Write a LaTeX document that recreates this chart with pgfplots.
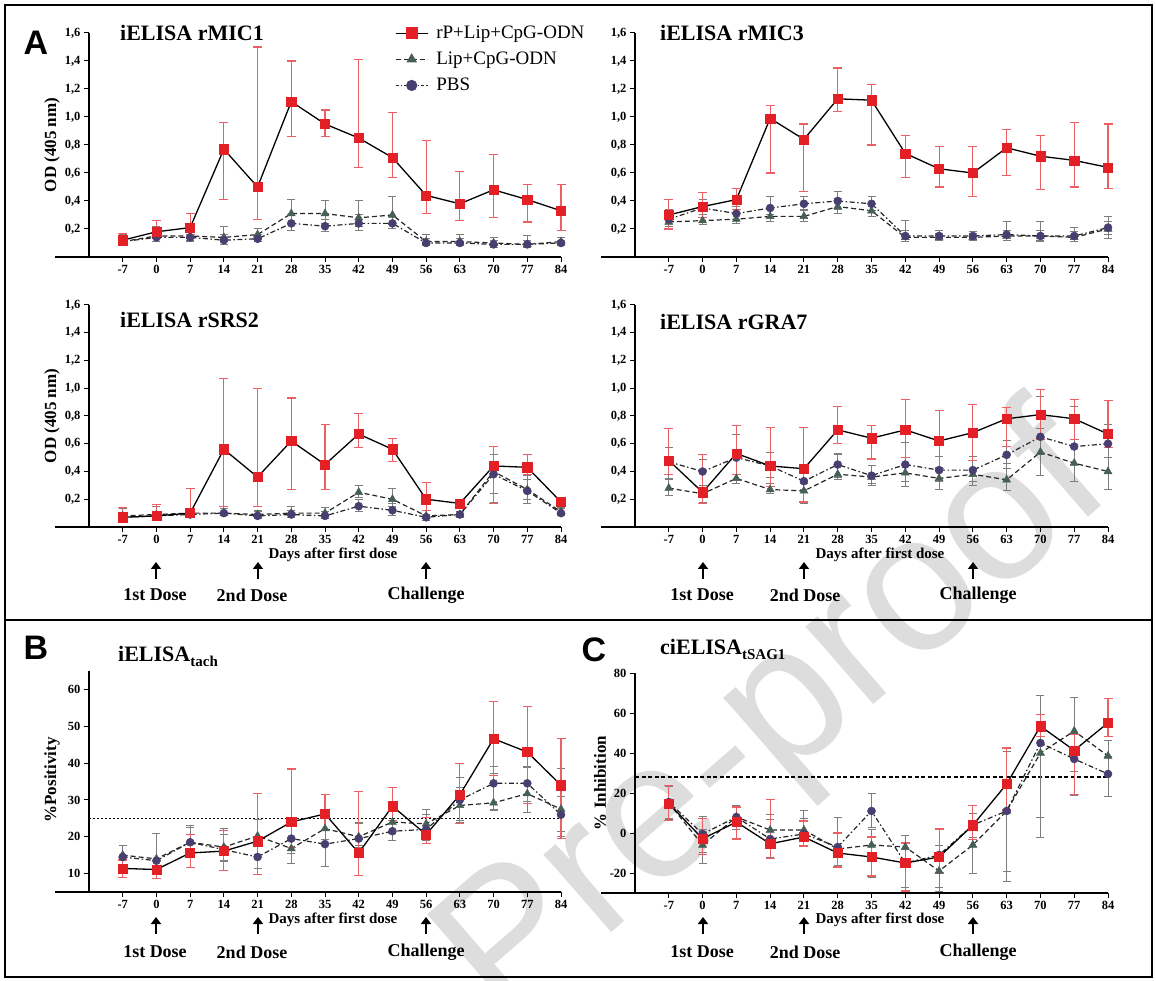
\documentclass[border=0pt]{standalone}
\usepackage{pgfplots}
\pgfplotsset{compat=1.18}
\usepackage{pgfplotstable}
\usepackage{fontspec}
\setmainfont{Liberation Serif}
\newfontfamily\lsans{Liberation Sans}
\usetikzlibrary{arrows.meta}

\definecolor{rmark}{RGB}{226,32,38}
\definecolor{rerr}{RGB}{234,96,100}
\definecolor{tmark}{RGB}{70,96,86}
\definecolor{cmark}{RGB}{72,62,112}
\definecolor{gerr}{RGB}{125,125,125}
\definecolor{wmark}{RGB}{221,221,221}

\newcommand\tickfont{\fontsize{12.5}{12.5}\selectfont\bfseries}
\newcommand\titlefont{\fontsize{22}{22}\selectfont\bfseries}
\newcommand\ylabfont{\fontsize{17}{17}\selectfont\bfseries}
\newcommand\dayfont{\fontsize{15}{15}\selectfont\bfseries}
\newcommand\dosefont{\fontsize{18}{18}\selectfont\bfseries}
\newcommand\letterfont{\lsans\fontsize{34}{34}\selectfont\bfseries}

\pgfplotsset{
 panel/.style={scale only axis, width=472pt, axis x line=bottom, axis y line=left,
   axis line style={-,line width=1.3pt,black}, tick align=outside, major tick length=5pt,
   tick style={line width=1pt,black}, xmin=-14, xmax=84,
   xtick={-7,0,7,14,21,28,35,42,49,56,63,70,77,84},
   xticklabels={-7,0,7,14,21,28,35,42,49,56,63,70,77,84},
   ticklabel style={font=\tickfont}, /pgf/number format/assume math mode=true, clip=false},
 odpanel/.style={panel, ymin=0, ymax=1.6, ytick={0.2,0.4,0.6,0.8,1.0,1.2,1.4,1.6},
   yticklabels={{0,2},{0,4},{0,6},{0,8},{1,0},{1,2},{1,4},{1,6}}},
 sred/.style={black, line width=1.3pt, solid, mark=square*, mark size=4.6pt,
   mark options={solid, fill=rmark, draw=rmark, line width=0.5pt},
   error bars/.cd, y dir=both, y explicit, error bar style={rerr, line width=1.1pt, solid},
   error mark options={rotate=90, rerr, mark size=4.5pt, line width=1.1pt, solid}},
 slip/.style={black!85, line width=1.2pt, dash pattern=on 5pt off 3pt, mark=triangle*, mark size=4.6pt,
   mark options={solid, fill=tmark, draw=tmark, line width=0.5pt},
   error bars/.cd, y dir=both, y explicit, error bar style={gerr, line width=1pt, solid},
   error mark options={rotate=90, gerr, mark size=4pt, line width=1pt, solid}},
 spbs/.style={black!85, line width=1.2pt, dash pattern=on 5pt off 2.5pt on 1.5pt off 2.5pt, mark=*, mark size=4pt,
   mark options={solid, fill=cmark, draw=cmark, line width=0.5pt},
   error bars/.cd, y dir=both, y explicit, error bar style={gerr, line width=1pt, solid},
   error mark options={rotate=90, gerr, mark size=4pt, line width=1pt, solid}},
}

\pgfplotstableread{
d r rp rm l lp lm p pp pm
-7 0.12 0.05 0.04 0.11 0.05 0.03 0.11 0.04 0.03
0 0.18 0.08 0.05 0.15 0.07 0.04 0.14 0.05 0.03
7 0.21 0.10 0.05 0.15 0.06 0.03 0.14 0.04 0.03
14 0.77 0.19 0.36 0.14 0.08 0.03 0.12 0.04 0.03
21 0.50 1.00 0.23 0.16 0.04 0.03 0.13 0.03 0.02
28 1.11 0.29 0.25 0.31 0.10 0.07 0.24 0.06 0.05
35 0.95 0.10 0.09 0.31 0.09 0.07 0.22 0.05 0.04
42 0.85 0.56 0.21 0.28 0.12 0.06 0.24 0.06 0.05
49 0.71 0.32 0.14 0.30 0.13 0.07 0.24 0.05 0.04
56 0.44 0.39 0.13 0.11 0.05 0.02 0.10 0.03 0.02
63 0.38 0.23 0.12 0.11 0.05 0.02 0.10 0.03 0.02
70 0.48 0.25 0.20 0.10 0.04 0.02 0.09 0.03 0.02
77 0.41 0.11 0.16 0.09 0.06 0.02 0.09 0.03 0.02
84 0.33 0.19 0.14 0.11 0.03 0.02 0.10 0.02 0.02
}\tMICa

\pgfplotstableread{
d r rp rm l lp lm p pp pm
-7 0.30 0.11 0.10 0.25 0.06 0.05 0.27 0.07 0.05
0 0.36 0.10 0.08 0.26 0.04 0.03 0.35 0.06 0.05
7 0.41 0.08 0.07 0.27 0.04 0.03 0.31 0.05 0.04
14 0.99 0.09 0.39 0.29 0.05 0.04 0.35 0.08 0.05
21 0.84 0.11 0.37 0.29 0.04 0.04 0.38 0.05 0.04
28 1.13 0.22 0.09 0.36 0.06 0.05 0.40 0.07 0.06
35 1.12 0.11 0.32 0.33 0.05 0.04 0.38 0.05 0.05
42 0.74 0.13 0.17 0.14 0.05 0.03 0.15 0.11 0.04
49 0.63 0.16 0.13 0.14 0.03 0.02 0.15 0.04 0.03
56 0.60 0.19 0.17 0.14 0.03 0.02 0.15 0.03 0.03
63 0.78 0.13 0.20 0.15 0.04 0.03 0.16 0.09 0.04
70 0.72 0.15 0.24 0.15 0.04 0.03 0.15 0.10 0.04
77 0.69 0.27 0.19 0.14 0.04 0.03 0.15 0.06 0.04
84 0.64 0.31 0.15 0.20 0.05 0.04 0.21 0.08 0.08
}\tMICc

\pgfplotstableread{
d r rp rm l lp lm p pp pm
-7 0.07 0.07 0.04 0.08 0.05 0.02 0.07 0.03 0.02
0 0.08 0.08 0.03 0.09 0.06 0.02 0.08 0.03 0.02
7 0.10 0.18 0.02 0.10 0.03 0.02 0.09 0.03 0.02
14 0.56 0.51 0.41 0.10 0.05 0.02 0.10 0.03 0.02
21 0.36 0.64 0.21 0.09 0.03 0.02 0.08 0.03 0.02
28 0.62 0.31 0.35 0.10 0.05 0.02 0.09 0.03 0.02
35 0.45 0.29 0.18 0.10 0.04 0.02 0.08 0.03 0.02
42 0.67 0.15 0.10 0.25 0.05 0.04 0.15 0.05 0.04
49 0.56 0.08 0.09 0.20 0.08 0.05 0.12 0.05 0.04
56 0.20 0.12 0.08 0.08 0.04 0.02 0.07 0.02 0.02
63 0.17 0.03 0.03 0.09 0.02 0.02 0.09 0.02 0.02
70 0.44 0.14 0.27 0.40 0.12 0.16 0.38 0.14 0.20
77 0.43 0.09 0.05 0.27 0.10 0.10 0.26 0.08 0.06
84 0.18 0.02 0.02 0.11 0.03 0.02 0.10 0.03 0.02
}\tSRS

\pgfplotstableread{
d r rp rm l lp lm p pp pm
-7 0.48 0.23 0.10 0.28 0.06 0.05 0.47 0.10 0.12
0 0.25 0.27 0.08 0.24 0.04 0.06 0.40 0.09 0.10
7 0.53 0.20 0.15 0.35 0.15 0.04 0.50 0.17 0.12
14 0.44 0.28 0.15 0.27 0.04 0.03 0.44 0.10 0.08
21 0.42 0.30 0.24 0.26 0.05 0.09 0.33 0.06 0.06
28 0.70 0.17 0.10 0.38 0.15 0.04 0.45 0.07 0.09
35 0.64 0.09 0.15 0.36 0.08 0.06 0.37 0.07 0.06
42 0.70 0.22 0.20 0.39 0.22 0.10 0.45 0.16 0.12
49 0.62 0.22 0.20 0.35 0.08 0.08 0.41 0.10 0.08
56 0.68 0.20 0.20 0.38 0.13 0.08 0.41 0.10 0.08
63 0.78 0.08 0.20 0.34 0.12 0.08 0.52 0.10 0.10
70 0.81 0.18 0.18 0.54 0.17 0.17 0.65 0.29 0.13
77 0.78 0.14 0.15 0.46 0.12 0.13 0.58 0.29 0.13
84 0.67 0.24 0.10 0.40 0.10 0.13 0.60 0.14 0.10
}\tGRA

\pgfplotstableread{
d r rp rm l lp lm p pp pm
-7 11.4 2.3 2.4 15.0 2.5 2.5 14.5 3 2.5
0 11.1 2.5 2.5 14.0 7 3 13.5 7.5 3
7 15.6 5 4 18.5 4.5 4 18.5 4 3
14 16.1 5.5 5.2 17.2 5 4 16.5 4 3
21 18.8 13 9 20.2 4.5 5 14.5 4 3
28 24.0 14.4 7 16.8 3 4 19.5 4 4
35 26.2 5.3 4.5 22.2 3 3 18.0 4 6
42 15.6 16.8 6.1 20.0 4 3 19.5 4 2
49 28.3 5 4 24.0 3 3 21.5 3 2.5
56 20.6 4.7 2.5 23.5 4 3 22.0 4 3
63 31.4 8.6 7.7 28.5 5 4 30.0 6 6
70 46.6 10 10 29.2 8 2 34.5 4.5 7
77 43.0 12.3 14 31.7 7 5 34.5 4.5 5
84 34.0 12.6 14.5 27.5 11 6 26.0 5 6
}\tTach

\pgfplotstableread{
d r rp rm l lp lm p pp pm
-7 14.8 9 8.5 15 9 8 15.5 8 8
0 -2.9 10 8 -6 8 9 -0.5 9 9
7 5.5 7.5 8.5 8 5 6 8 6 6
14 -5.4 22 7.5 1.5 8 7 -3 10 9
21 -2.0 8 4.5 1.5 10 5 -0.5 8 6
28 -10.0 10 7 -8 8 8 -7 15 9
35 -12.0 10 9.5 -6 8 16 11 9 8
42 -15.0 10 14 -7 6 8 -15 7 12
49 -12.0 14 8 -19 8 10 -11 5 16
56 3.9 10 7 -6 12 14 4 6 6
63 24.5 18 13 11 30 35 11 30 30
70 53.4 6 5 40 16 32 45 24 47
77 41.3 8 22 51 17 20 37 13 18
84 55.1 12 7 38.5 8 8 29.5 9 11
}\tSAG

\begin{document}
\begin{tikzpicture}
\path[use as bounding box] (0pt,0pt) rectangle (1156pt,980pt);

% watermark (behind everything)
\begin{scope}[x=1pt,y=-1pt,yshift=980pt]
\node[rotate=41, text=wmark, font=\lsans\fontsize{195}{195}\selectfont, inner sep=0pt] at (777,722) {Pre-proof};
\end{scope}

% ---------- A: rMIC1 ----------
\begin{axis}[odpanel, at={(89pt,723pt)}, anchor=south west, height=224pt,
  legend style={at={(axis description cs:0.648,1.04)}, anchor=north west, draw=none, fill=none,
    font=\fontsize{19}{19}\selectfont, inner sep=0pt, row sep=8pt,
    /tikz/every odd column/.append style={column sep=6pt}},
  legend cell align=left,
  legend image code/.code={\draw[mark repeat=2,mark phase=2,#1] plot coordinates {(0pt,0pt) (16pt,0pt) (32pt,0pt)};}]
\addlegendimage{black, line width=1.3pt, solid, mark=square*, mark size=5.5pt, mark options={solid, fill=rmark, draw=rmark}}
\addlegendentry{rP+Lip+CpG-ODN}
\addlegendimage{black!85, line width=1.2pt, dash pattern=on 5pt off 3pt, mark=triangle*, mark size=5pt, mark options={solid, fill=tmark, draw=tmark}}
\addlegendentry{Lip+CpG-ODN}
\addlegendimage{black!85, line width=1.2pt, dash pattern=on 3pt off 2pt on 1.5pt off 2pt, mark=*, mark size=5pt, mark options={solid, fill=cmark, draw=cmark}}
\addlegendentry{PBS}
\draw[line width=1.3pt] (axis cs:-21,0) -- (axis cs:-14,0);
\addplot[forget plot, slip] table[x=d,y=l,y error plus=lp,y error minus=lm]{\tMICa};
\addplot[forget plot, spbs] table[x=d,y=p,y error plus=pp,y error minus=pm]{\tMICa};
\addplot[forget plot, sred] table[x=d,y=r,y error plus=rp,y error minus=rm]{\tMICa};
\end{axis}

% ---------- A: rMIC3 ----------
\begin{axis}[odpanel, at={(635pt,723pt)}, anchor=south west, height=224pt, width=473pt]
\draw[line width=1.3pt] (axis cs:-21,0) -- (axis cs:-14,0);
\addplot[slip] table[x=d,y=l,y error plus=lp,y error minus=lm]{\tMICc};
\addplot[spbs] table[x=d,y=p,y error plus=pp,y error minus=pm]{\tMICc};
\addplot[sred] table[x=d,y=r,y error plus=rp,y error minus=rm]{\tMICc};
\end{axis}

% ---------- A: rSRS2 ----------
\begin{axis}[odpanel, at={(89pt,453pt)}, anchor=south west, height=222pt]
\draw[line width=1.3pt] (axis cs:-21,0) -- (axis cs:-14,0);
\addplot[slip] table[x=d,y=l,y error plus=lp,y error minus=lm]{\tSRS};
\addplot[spbs] table[x=d,y=p,y error plus=pp,y error minus=pm]{\tSRS};
\addplot[sred] table[x=d,y=r,y error plus=rp,y error minus=rm]{\tSRS};
\end{axis}

% ---------- A: rGRA7 ----------
\begin{axis}[odpanel, at={(635pt,453pt)}, anchor=south west, height=222pt, width=473pt]
\draw[line width=1.3pt] (axis cs:-21,0) -- (axis cs:-14,0);
\addplot[slip] table[x=d,y=l,y error plus=lp,y error minus=lm]{\tGRA};
\addplot[spbs] table[x=d,y=p,y error plus=pp,y error minus=pm]{\tGRA};
\addplot[sred] table[x=d,y=r,y error plus=rp,y error minus=rm]{\tGRA};
\end{axis}

% ---------- B ----------
\begin{axis}[panel, at={(89pt,88pt)}, anchor=south west, height=221pt,
  ymin=5, ymax=65, ytick={10,20,30,40,50,60}]
\draw[line width=1.3pt] (axis cs:-21,5) -- (axis cs:-14,5);
\addplot[black, line width=1.6pt, dash pattern=on 2pt off 2pt] coordinates {(-14,25) (84,25)};
\addplot[slip] table[x=d,y=l,y error plus=lp,y error minus=lm]{\tTach};
\addplot[spbs] table[x=d,y=p,y error plus=pp,y error minus=pm]{\tTach};
\addplot[sred] table[x=d,y=r,y error plus=rp,y error minus=rm]{\tTach};
\end{axis}

% ---------- C ----------
\begin{axis}[panel, at={(635pt,87pt)}, anchor=south west, height=220pt, width=473pt,
  ymin=-30, ymax=80, ytick={-20,0,20,40,60,80}]
\draw[line width=1.3pt] (axis cs:-21,-30) -- (axis cs:-14,-30);
\addplot[black, line width=1.4pt, dash pattern=on 4pt off 2.5pt] coordinates {(-14,28) (84,28)};
\addplot[slip] table[x=d,y=l,y error plus=lp,y error minus=lm]{\tSAG};
\addplot[spbs] table[x=d,y=p,y error plus=pp,y error minus=pm]{\tSAG};
\addplot[sred] table[x=d,y=r,y error plus=rp,y error minus=rm]{\tSAG};
\end{axis}

% ---------- annotations (pixel coordinates) ----------
\begin{scope}[x=1pt,y=-1pt,yshift=980pt]
\draw[line width=2.5pt] (5,5) rectangle (1152,620);
\draw[line width=2.5pt] (5,620) rectangle (1152,977);
\node[font=\letterfont] at (36,43) {A};
\node[font=\letterfont] at (36,648) {B};
\node[font=\letterfont] at (594,650) {C};
\node[anchor=west, inner sep=0pt, font=\titlefont] at (120,33) {iELISA rMIC1};
\node[anchor=west, inner sep=0pt, font=\titlefont] at (660,33) {iELISA rMIC3};
\node[anchor=west, inner sep=0pt, font=\titlefont] at (120,320) {iELISA rSRS2};
\node[anchor=west, inner sep=0pt, font=\titlefont] at (660,322) {iELISA rGRA7};
\node[anchor=base west, inner sep=0pt, font=\titlefont] at (118,662) {iELISA\raisebox{-5pt}{\fontsize{15}{15}\selectfont tach}};
\node[anchor=base west, inner sep=0pt, font=\titlefont] at (660,655) {ciELISA\raisebox{-5pt}{\fontsize{15}{15}\selectfont tSAG1}};
\node[rotate=90, font=\ylabfont] at (52,145) {OD (405 nm)};
\node[rotate=90, font=\ylabfont] at (52,416) {OD (405 nm)};
\node[rotate=90, font=\ylabfont] at (52,780) {\%Positivity};
\node[rotate=90, font=\ylabfont] at (600,783) {\% Inhibition};
\foreach \cx in {333,880} {
  \node[font=\dayfont] at (\cx,555) {Days after first dose};
  \node[font=\dayfont] at (\cx,920) {Days after first dose};
}
\foreach \ax in {156,258,426,703,804,973} {
  \draw[line width=2.8pt, -{Triangle[width=10pt,length=7pt]}] (\ax,579) -- (\ax,562);
  \draw[line width=2.8pt, -{Triangle[width=10pt,length=7pt]}] (\ax,934) -- (\ax,917);
}
\foreach \yy in {595,952} {
  \node[font=\dosefont] at (155,\yy) {1st Dose};
  \node[font=\dosefont] at (252,\yy) {2nd Dose};
  \node[font=\dosefont] at (426,\yy) {Challenge};
  \node[font=\dosefont] at (702,\yy) {1st Dose};
  \node[font=\dosefont] at (805,\yy) {2nd Dose};
  \node[font=\dosefont] at (978,\yy) {Challenge};
}
\end{scope}
\end{tikzpicture}
\end{document}
